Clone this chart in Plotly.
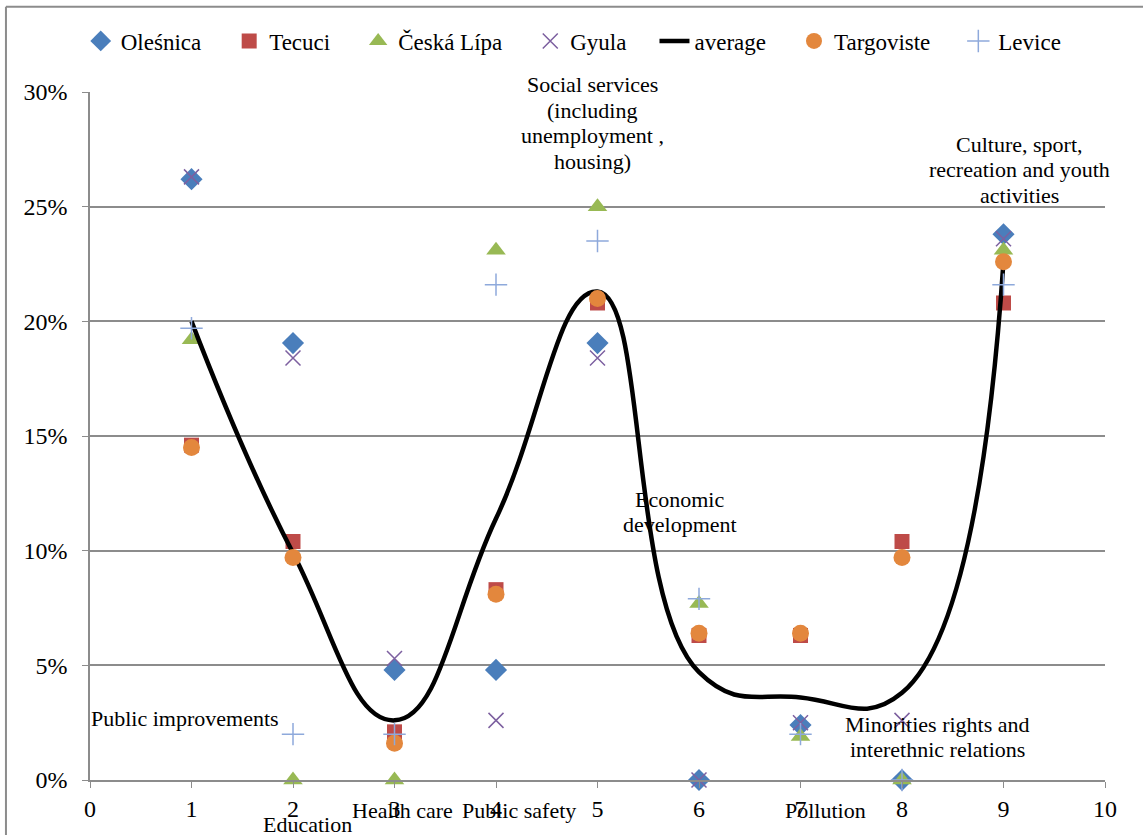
import plotly.graph_objects as go

x_vals = [1, 2, 3, 4, 5, 6, 7, 8, 9]

olesnica   = [26.2, 19.05, 4.8, 4.8, 19.05, 0.0, 2.4, 0.0, 23.8]
tecuci     = [14.6, 10.4, 2.1, 8.3, 20.8, 6.3, 6.3, 10.4, 20.8]
ceska_lipa = [19.2, 0.0, 0.0, 23.1, 25.0, 7.7, 1.9, 0.0, 23.1]
gyula      = [26.3, 18.4, 5.3, 2.6, 18.4, 0.0, 2.5, 2.6, 23.6]
average    = [20.0, 9.9, 2.6, 11.4, 21.3, 4.7, 3.6, 3.8, 22.6]
targoviste = [14.5, 9.7, 1.6, 8.1, 21.0, 6.4, 6.4, 9.7, 22.6]
levice     = [19.7, 2.0, 2.0, 21.6, 23.5, 7.9, 2.0, 0.0, 21.6]

category_labels = [
    ["Public improvements"], ["Education"], ["Health care"], ["Public safety"],
    ["Social services", "(including", "unemployment ,", "housing)"],
    ["Economic", "development"], ["Pollution"],
    ["Minorities rights and", "interethnic relations"],
    ["Culture, sport,", "recreation and youth", "activities"],
]
label_x = [0.94, 2.14, 3.08, 4.23, 4.95, 5.81, 7.25, 8.35, 9.16]
label_y = [2.70, -1.92, -1.31, -1.31, 28.65, 11.69, -1.31, 1.87, 26.6]

X_MAX = 10
Y_MAX = 30
LINE_STEP = 1.12  # label line spacing in value units (~25.7 px)

FONT = "Liberation Serif, Times New Roman, DejaVu Serif, serif"
PAD = "&nbsp;" * 4

fig = go.Figure()

def scatter(name, ys, symbol, color, size):
    mk = dict(symbol=symbol, color=color, size=size)
    if symbol.endswith("-thin"):
        mk["line"] = dict(color=color, width=1.5)
    fig.add_trace(go.Scatter(x=x_vals, y=ys, mode="markers", name=name + PAD,
                             marker=mk, cliponaxis=False))

scatter("Oleśnica", olesnica, "diamond", "#4A7EBB", 17)
scatter("Tecuci", tecuci, "square", "#BE4B48", 15)
scatter("Česká Lípa", ceska_lipa, "triangle-up", "#98B954", 17)
scatter("Gyula", gyula, "x-thin", "#7D60A0", 15)
fig.add_trace(go.Scatter(x=x_vals, y=average, mode="lines", name="average" + PAD,
                         line=dict(color="black", width=4.5, shape="spline", smoothing=1.3),
                         cliponaxis=False))
scatter("Targoviste", targoviste, "circle", "#E3873D", 17)
scatter("Levice", levice, "cross-thin", "#8EA9DB", 16)

# data labels (placed in paper fractions of the 0..10 / 0..30 axes so they are not hidden)
for lines, lx, ly in zip(category_labels, label_x, label_y):
    n = len(lines)
    for i, t in enumerate(lines):
        yy = ly + ((n - 1) / 2 - i) * LINE_STEP
        fig.add_annotation(x=lx / X_MAX, y=yy / Y_MAX, xref="paper", yref="paper",
                           text=t, showarrow=False,
                           font=dict(family=FONT, size=22, color="black"),
                           align="center", xanchor="center", yanchor="middle")

# outer chart border (partially cropped at right/bottom)
border = dict(color="#8c8c8c", width=2)
fig.add_shape(type="line", xref="paper", yref="paper", x0=-0.0828, x1=1.05,
              y0=1.124, y1=1.124, line=border, layer="above")
fig.add_shape(type="line", xref="paper", yref="paper", x0=-0.0828, x1=-0.0828,
              y0=-0.1, y1=1.124, line=border, layer="above")

fig.update_layout(
    width=1143, height=835,
    margin=dict(l=90, r=38, t=92, b=55, autoexpand=False),
    paper_bgcolor="white", plot_bgcolor="white",
    font=dict(family=FONT, size=23, color="black"),
    showlegend=True,
    legend=dict(orientation="h", xref="container", yref="container",
                x=0.512, xanchor="center", y=1 - 41 / 835, yanchor="middle",
                font=dict(family=FONT, size=23), itemwidth=30, tracegroupgap=0,
                bgcolor="rgba(0,0,0,0)"),
    xaxis=dict(range=[0, X_MAX], tickmode="linear", tick0=0, dtick=1,
               showgrid=False, zeroline=False, showline=True, linecolor="#8c8c8c",
               linewidth=1.5, ticks="outside", ticklen=6, tickcolor="#8c8c8c",
               tickfont=dict(family=FONT, size=24)),
    yaxis=dict(range=[0, Y_MAX], tickmode="array", tickvals=[0, 5, 10, 15, 20, 25, 30],
               ticktext=["0%", "5%", "10%", "15%", "20%", "25%", "30%"],
               showgrid=True, gridcolor="#8c8c8c", gridwidth=1.5, zeroline=False,
               showline=True, linecolor="#8c8c8c", linewidth=1.5,
               ticks="outside", ticklen=6, tickcolor="#8c8c8c", ticklabelstandoff=10,
               tickfont=dict(family=FONT, size=24)),
)

fig.write_html("out.html", config={"displayModeBar": False},
               post_script="document.body.style.margin='0';")
